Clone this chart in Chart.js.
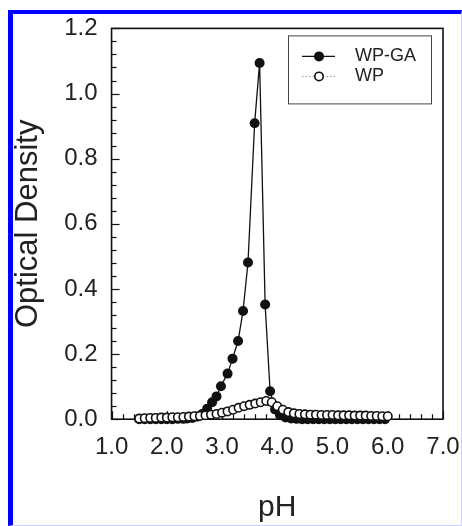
<!DOCTYPE html>
<html>
<head>
<meta charset="utf-8">
<script src="https://cdn.jsdelivr.net/npm/chart.js@4"></script>
<style>
  html, body { margin: 0; padding: 0; background: #fff; }
  #frame {
    position: absolute; left: 8px; top: 10px; width: 454px; height: 516px;
    box-sizing: border-box;
    border-left: 5px solid #0000ff; border-top: 4px solid #0000ff;
    border-right: 1px solid #d0d0ff; border-bottom: 1px solid #d0d0ff;
  }
  #c { position: absolute; left: 0; top: 0; }
</style>
</head>
<body>
<div id="frame"></div>
<canvas id="c" width="462" height="526"></canvas>
<script>
// pH vs optical density, whey protein (WP) and whey protein + gum arabic (WP-GA)
const phWP = [1.5, 1.6, 1.7, 1.8, 1.9, 2.0, 2.1, 2.2, 2.3, 2.4, 2.5, 2.6, 2.7, 2.8, 2.9, 3.0,
  3.1, 3.2, 3.3, 3.4, 3.5, 3.6, 3.7, 3.8, 3.9, 4.0, 4.1, 4.2, 4.3, 4.4, 4.5, 4.6, 4.7, 4.8,
  4.9, 5.0, 5.1, 5.2, 5.3, 5.4, 5.5, 5.6, 5.7, 5.8, 5.9, 6.0];
const odWP = [0.002, 0.003, 0.004, 0.004, 0.005, 0.005, 0.006, 0.006, 0.007, 0.008, 0.009,
  0.010, 0.012, 0.014, 0.016, 0.020, 0.024, 0.029, 0.035, 0.040, 0.044, 0.048, 0.052, 0.056,
  0.052, 0.040, 0.029, 0.022, 0.018, 0.016, 0.015, 0.014, 0.014, 0.013, 0.013, 0.013, 0.012,
  0.012, 0.012, 0.011, 0.011, 0.011, 0.010, 0.010, 0.009, 0.009];

const phGA = [1.5, 1.6, 1.7, 1.8, 1.9, 2.0, 2.1, 2.2, 2.3, 2.37, 2.46, 2.55, 2.64, 2.73, 2.82,
  2.90, 2.98, 3.10, 3.19, 3.29, 3.38, 3.47, 3.59, 3.68, 3.78, 3.87, 3.96, 4.05, 4.15, 4.25,
  4.35, 4.45, 4.55, 4.65, 4.75, 4.85, 4.95, 5.05, 5.15, 5.25, 5.35, 5.45, 5.55, 5.65, 5.75,
  5.85, 5.95];
const odGA = [0.0, 0.0, 0.0, 0.0, 0.0, 0.0, 0.0, 0.001, 0.001, 0.002, 0.004, 0.008, 0.016,
  0.032, 0.052, 0.070, 0.101, 0.140, 0.186, 0.240, 0.332, 0.481, 0.909, 1.094, 0.352, 0.086,
  0.030, 0.012, 0.005, 0.002, 0.001, 0.0, 0.0, 0.0, 0.0, 0.0, 0.0, 0.0, 0.0, 0.0, 0.0, 0.0,
  0.0, 0.0, 0.0, 0.0, 0.0];

const xTicks = [1, 2, 3, 4, 5, 6, 7];
const yTicks = [0, 0.2, 0.4, 0.6, 0.8, 1.0, 1.2];
const seriesNames = ['WP-GA', 'WP'];

const toPoints = (xs, ys) => xs.map((v, i) => ({ x: v, y: ys[i] }));

// frame + inward ticks (major and minor) on left and bottom
const frameTicks = {
  id: 'frameTicks',
  beforeDatasetsDraw(chart) {
    const { ctx, chartArea: a, scales: { x, y } } = chart;
    ctx.save();
    ctx.strokeStyle = '#111';
    ctx.lineWidth = 1.2;
    // y: 5 minor steps per major
    for (let i = 0; i < yTicks.length; i++) {
      for (let k = 0; k < 5; k++) {
        if (i === yTicks.length - 1 && k > 0) break;
        const v = yTicks[i] + k * 0.04;
        const py = Math.round(y.getPixelForValue(v)) + 0.5;
        const len = k === 0 ? 8 : 5;
        ctx.beginPath(); ctx.moveTo(a.left, py); ctx.lineTo(a.left + len, py); ctx.stroke();
      }
    }
    for (let i = 0; i < xTicks.length; i++) {
      for (let k = 0; k < 5; k++) {
        if (i === xTicks.length - 1 && k > 0) break;
        const v = xTicks[i] + k * 0.2;
        const px = Math.round(x.getPixelForValue(v)) + 0.5;
        const len = k === 0 ? 8 : 5;
        ctx.beginPath(); ctx.moveTo(px, a.bottom); ctx.lineTo(px, a.bottom - len); ctx.stroke();
      }
    }
    ctx.lineWidth = 1.6;
    ctx.strokeRect(a.left, a.top, a.right - a.left, a.bottom - a.top);
    ctx.restore();
  }
};

// boxed legend in the upper right
const legendBox = {
  id: 'legendBox',
  afterDraw(chart) {
    const { ctx, chartArea: a } = chart;
    const bx = a.right - 155, by = a.top + 7, bw = 143, bh = 68;
    ctx.save();
    ctx.strokeStyle = '#444';
    ctx.lineWidth = 1;
    ctx.strokeRect(bx + 0.5, by + 0.5, bw, bh);
    const rows = [by + 21, by + 41];
    // WP-GA
    ctx.strokeStyle = '#111'; ctx.lineWidth = 1.3;
    ctx.beginPath(); ctx.moveTo(bx + 14, rows[0]); ctx.lineTo(bx + 47, rows[0]); ctx.stroke();
    ctx.fillStyle = '#111';
    ctx.beginPath(); ctx.arc(bx + 31, rows[0], 5, 0, Math.PI * 2); ctx.fill();
    // WP
    ctx.strokeStyle = '#999'; ctx.lineWidth = 1; ctx.setLineDash([1.5, 2]);
    ctx.beginPath(); ctx.moveTo(bx + 14, rows[1]); ctx.lineTo(bx + 47, rows[1]); ctx.stroke();
    ctx.setLineDash([]);
    ctx.fillStyle = '#fff'; ctx.strokeStyle = '#111'; ctx.lineWidth = 1.6;
    ctx.beginPath(); ctx.arc(bx + 31, rows[1], 4.2, 0, Math.PI * 2); ctx.fill(); ctx.stroke();
    ctx.fillStyle = '#222';
    ctx.font = '18px "Liberation Sans", Arial, sans-serif';
    ctx.textBaseline = 'middle';
    ctx.fillText(seriesNames[0], bx + 67, rows[0]);
    ctx.fillText(seriesNames[1], bx + 67, rows[1]);
    ctx.restore();
  }
};

const fontFam = '"Liberation Sans", Arial, sans-serif';

new Chart(document.getElementById('c'), {
  type: 'line',
  data: {
    datasets: [
      {
        label: seriesNames[0],
        data: toPoints(phGA, odGA),
        borderColor: '#111',
        borderWidth: 1.3,
        pointRadius: 5,
        pointBackgroundColor: '#111',
        pointBorderColor: '#111',
        pointBorderWidth: 0,
        tension: 0,
        clip: false,
        order: 1
      },
      {
        label: seriesNames[1],
        data: toPoints(phWP, odWP),
        borderColor: '#999',
        borderWidth: 1,
        borderDash: [1.5, 2],
        pointRadius: 4.2,
        pointBackgroundColor: '#fff',
        pointBorderColor: '#111',
        pointBorderWidth: 1.6,
        tension: 0,
        clip: false,
        order: 0
      }
    ]
  },
  options: {
    responsive: false,
    animation: false,
    layout: { padding: { left: 10, right: 19, top: 26, bottom: 0 } },
    plugins: {
      legend: { display: false },
      tooltip: { enabled: false }
    },
    scales: {
      x: {
        type: 'linear',
        min: 1, max: 7,
        afterBuildTicks: s => { s.ticks = xTicks.map(v => ({ value: v })); },
        // invisible tick marks only used as spacing below the axis
        grid: { display: true, drawOnChartArea: false, drawTicks: true, tickLength: 14,
                tickColor: 'rgba(0,0,0,0)' },
        border: { display: false },
        ticks: {
          padding: 0,
          color: '#222',
          font: { family: fontFam, size: 24 },
          callback: v => v.toFixed(1),
          maxRotation: 0
        },
        title: {
          display: true, text: 'pH', color: '#222',
          font: { family: fontFam, size: 30 },
          padding: { top: 28, bottom: 0 }
        }
      },
      y: {
        min: 0, max: 1.2,
        afterBuildTicks: s => { s.ticks = yTicks.map(v => ({ value: v })); },
        grid: { display: false, drawTicks: false },
        border: { display: false },
        ticks: {
          padding: 14,
          color: '#222',
          font: { family: fontFam, size: 24 },
          callback: v => v.toFixed(1)
        },
        title: {
          display: true, text: 'Optical Density', color: '#222',
          font: { family: fontFam, size: 31 },
          padding: { top: 0, bottom: 3 }
        }
      }
    }
  },
  plugins: [frameTicks, legendBox]
});
</script>
</body>
</html>
